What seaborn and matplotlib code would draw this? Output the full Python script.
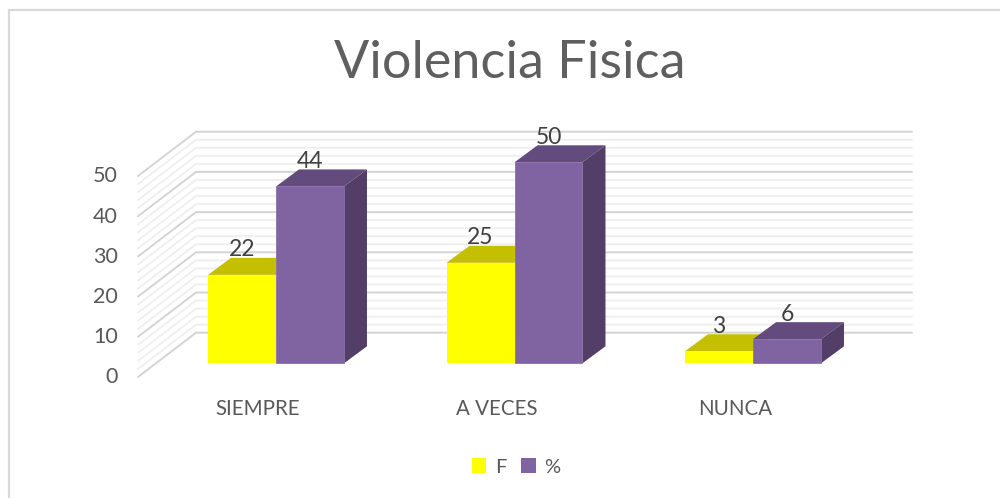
import matplotlib
matplotlib.use("Agg")
import matplotlib.pyplot as plt
from matplotlib.patches import Polygon
import pandas as pd
import seaborn as sns

categorias = ["SIEMPRE", "A VECES", "NUNCA"]
valores_f = [22, 25, 3]
valores_pct = [44, 50, 6]
ticks_y = [0, 10, 20, 30, 40, 50]
ticks_menores = [v for v in range(0, 50, 2) if v % 10 != 0]

AMARILLO = "#FFFF00"
AMARILLO_TOPE = "#C4BF00"
MORADO = "#8064A2"
MORADO_TOPE = "#644B7E"
MORADO_LADO = "#523E66"
TEXTO = "#595959"
ETIQUETA = "#404040"

# Escala: una categoria son 238.5 px, una unidad de valor son 4.02 px
PX_X = 238.5
PX_Y = 4.02


def px_x(px):
    return (px - 276) / PX_X


def px_y(py):
    return (363.3 - py) / PX_Y


sns.set_theme(style="white")
plt.rcParams["font.family"] = ["Lato", "DejaVu Sans"]

df = pd.DataFrame({
    "categoria": categorias * 2,
    "serie": ["F"] * 3 + ["%"] * 3,
    "valor": valores_f + valores_pct,
})

fig = plt.figure(figsize=(10, 4.98), dpi=100)
ax = fig.add_axes([0, 0, 1, 1])
sns.barplot(
    data=df, x="categoria", y="valor", hue="serie",
    palette={"F": AMARILLO, "%": MORADO}, saturation=1,
    width=0.57, gap=0, linewidth=0, ax=ax,
)
ax.set_xlim(px_x(0), px_x(1000))
ax.set_ylim(px_y(498), px_y(0))
ax.set_axis_off()

# Marco exterior: solo se ven el borde superior y el izquierdo
ax.plot([px_x(9), px_x(9), px_x(1000)], [px_y(498), px_y(9.5), px_y(9.5)],
        color="#D9D9D9", lw=1.6, solid_joinstyle="miter", clip_on=False)

# Paredes: cuadricula del fondo y de la pared izquierda
x_pared = px_x(138)
x_fondo = px_x(196)
x_fin = px_x(912)
sube_pared = (377.0 - 332.7) / PX_Y
baja_pared = (377.0 - 363.3) / PX_Y
for v in ticks_menores + ticks_y:
    mayor = v in ticks_y
    color = "#D4D4D4" if mayor else "#EFEFEF"
    orden = 1.2 if mayor else 1.1
    y_pared = v - baja_pared
    y_fondo = y_pared + sube_pared
    ax.plot([x_pared, x_fondo, x_fin], [y_pared, y_fondo, y_fondo],
            color=color, lw=1.4, zorder=orden, solid_joinstyle="miter")

# Caras superior y lateral de cada barra, tomadas de los rectangulos de seaborn
dx = 23 / PX_X
dy = 17 / PX_Y
n = len(categorias)
barras = ax.containers[0].patches + ax.containers[1].patches
for i, barra in enumerate(barras):
    es_morado = i >= n
    base = 4 if es_morado else 2
    x0, ancho, alto = barra.get_x(), barra.get_width(), barra.get_height()
    x1 = x0 + ancho
    barra.set_zorder(base + 1)
    if es_morado:
        barra.set_edgecolor("#8A70AA")
        barra.set_linewidth(0.6)
    tope = [(x0, alto), (x1, alto), (x1 + dx, alto + dy), (x0 + dx, alto + dy)]
    lado = [(x1, 0), (x1 + dx, dy), (x1 + dx, alto + dy), (x1, alto)]
    ax.add_patch(Polygon(tope, closed=True, fc=MORADO_TOPE if es_morado else AMARILLO_TOPE,
                         ec="none", zorder=base))
    if es_morado:
        ax.add_patch(Polygon(lado, closed=True, fc=MORADO_LADO, ec="none", zorder=base))
    ax.text(x0 + ancho / 2, alto + 25 / PX_Y, f"{alto:.0f}", ha="center", va="center",
            fontsize=16.5, color=ETIQUETA, zorder=8)

# Eje y, categorias y titulo como texto
for v in ticks_y:
    ax.text(px_x(118), v - 14 / PX_Y, str(v), ha="right", va="center", fontsize=15.5, color=TEXTO)
for i, c in enumerate(categorias):
    ax.text(i - 18 / PX_X, px_y(408.5), c, ha="center", va="center", fontsize=14.8, color=TEXTO)
ax.text(px_x(510), px_y(63), "Violencia Fisica", ha="center", va="center",
        fontsize=37.5, color="#5F5F5F")

manejadores, etiquetas = ax.get_legend_handles_labels()
ax.legend(
    manejadores, etiquetas, ncols=2, frameon=False, loc="center",
    bbox_to_anchor=(516 / 1000, 1 - 467 / 498), fontsize=14.5, labelcolor=TEXTO,
    handlelength=0.72, handleheight=0.72, handletextpad=0.42, columnspacing=0.75,
)

fig.savefig("out.png", dpi=100)
plt.close(fig)
